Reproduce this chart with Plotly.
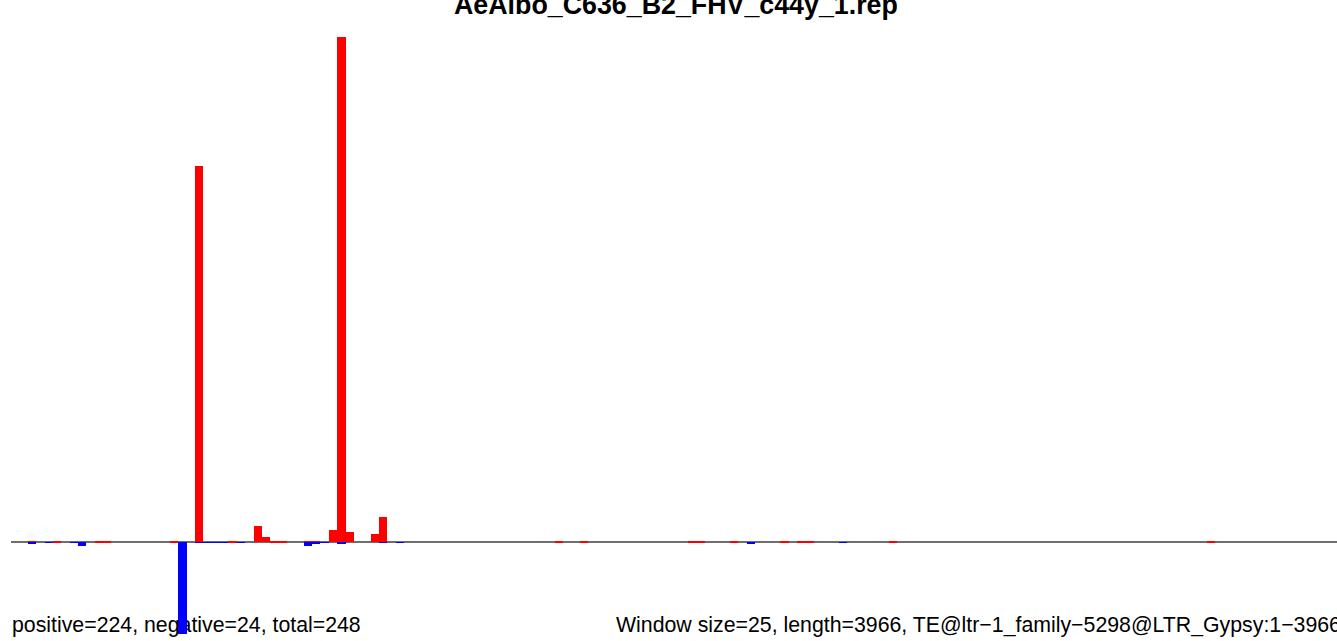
import plotly.graph_objects as go

TITLE = "AeAlbo_C636_B2_FHV_c44y_1.rep"
LEFT_NOTE = "positive=224, negative=24, total=248"
RIGHT_NOTE = "Window size=25, length=3966, TE@ltr\u22121_family\u22125298@LTR_Gypsy:1\u22123966"

WINDOW = 25
LENGTH = 3966

# sense (positive) signal per window: window index -> value
pos_windows = [2, 5, 10, 11, 19, 22, 26, 29, 30, 31, 32, 35, 36, 38, 39, 40,
               43, 44, 65, 68, 81, 82, 86, 92, 94, 95, 105, 143]
pos_values = [0.1, 0.3, 0.1, 0.1, 0.1, 85.5, 0.1, 3.7, 1.2, 0.4, 0.4, 0.4,
              0.4, 2.8, 114.8, 2.3, 1.9, 5.75, 0.1, 0.1, 0.1, 0.1, 0.1, 0.1,
              0.1, 0.1, 0.1, 0.1]

# antisense (negative) signal per window
neg_windows = [2, 4, 7, 8, 20, 22, 23, 24, 25, 27, 35, 36, 37, 39, 44, 46, 88, 99]
neg_values = [0.25, 0.1, 0.1, 0.8, 20.9, 0.1, 0.1, 0.1, 0.1, 0.1, 0.8, 0.25,
              0.1, 0.3, 0.1, 0.1, 0.25, 0.1]

# --- layout geometry (pixels) ---
W, H = 1337, 641
M_L, M_R, M_T, M_B = 11, 0, 13, 0
PX_PER_BP = 8.361 / WINDOW
X_LO = -0.2
X_HI = X_LO + (W - M_L - M_R) / PX_PER_BP
ZERO_PX = 542.3
PX_PER_UNIT = 4.4
Y_LO = -(H - M_B - ZERO_PX) / PX_PER_UNIT
Y_HI = (ZERO_PX - M_T) / PX_PER_UNIT


def px_to_x(px):
    return X_LO + (px - M_L) / PX_PER_BP


def px_to_y(py):
    return (ZERO_PX - py) / PX_PER_UNIT


FONT = "Liberation Sans, Arial, Helvetica, sans-serif"

fig = go.Figure()

# notes on the base axes so the bars (on overlay axes) draw above them
fig.add_trace(go.Scatter(
    x=[px_to_x(12), px_to_x(616)],
    y=[px_to_y(627), px_to_y(627)],
    text=[LEFT_NOTE, RIGHT_NOTE],
    mode="text",
    textposition="middle right",
    textfont=dict(family=FONT, size=21.3, color="#000000"),
    cliponaxis=False,
    hoverinfo="skip",
    showlegend=False,
))

fig.add_trace(go.Bar(
    x=[i * WINDOW + WINDOW / 2 for i in pos_windows],
    y=pos_values,
    width=WINDOW,
    marker=dict(color="#FF0000", line=dict(width=0)),
    xaxis="x2", yaxis="y2",
    showlegend=False,
))
fig.add_trace(go.Bar(
    x=[i * WINDOW + WINDOW / 2 for i in neg_windows],
    y=[-v for v in neg_values],
    width=WINDOW,
    marker=dict(color="#0000FF", line=dict(width=0)),
    xaxis="x2", yaxis="y2",
    showlegend=False,
))

hidden = dict(showgrid=False, showticklabels=False, ticks="", showline=False, zeroline=False)

fig.update_layout(
    width=W,
    height=H,
    margin=dict(l=M_L, r=M_R, t=M_T, b=M_B, pad=0),
    paper_bgcolor="white",
    plot_bgcolor="white",
    barmode="overlay",
    bargap=0,
    xaxis=dict(range=[X_LO, X_HI], **hidden),
    yaxis=dict(range=[Y_LO, Y_HI], showgrid=False, showticklabels=False, ticks="",
               showline=False, zeroline=True, zerolinecolor="#6E6E6E", zerolinewidth=1.5),
    xaxis2=dict(range=[X_LO, X_HI], overlaying="x", **hidden),
    yaxis2=dict(range=[Y_LO, Y_HI], overlaying="y", **hidden),
)

fig.add_annotation(
    text="<b>" + TITLE + "</b>",
    x=(676 - M_L) / (W - M_L - M_R),
    y=(H - M_B - 4.7) / (H - M_T - M_B),
    xref="paper", yref="paper",
    xanchor="center", yanchor="middle",
    showarrow=False,
    font=dict(family=FONT, size=26.8, color="#000000"),
)

fig.write_html(
    "out.html",
    config={"displayModeBar": False},
    post_script="document.body.style.margin='0';document.body.style.overflow='hidden';",
)
